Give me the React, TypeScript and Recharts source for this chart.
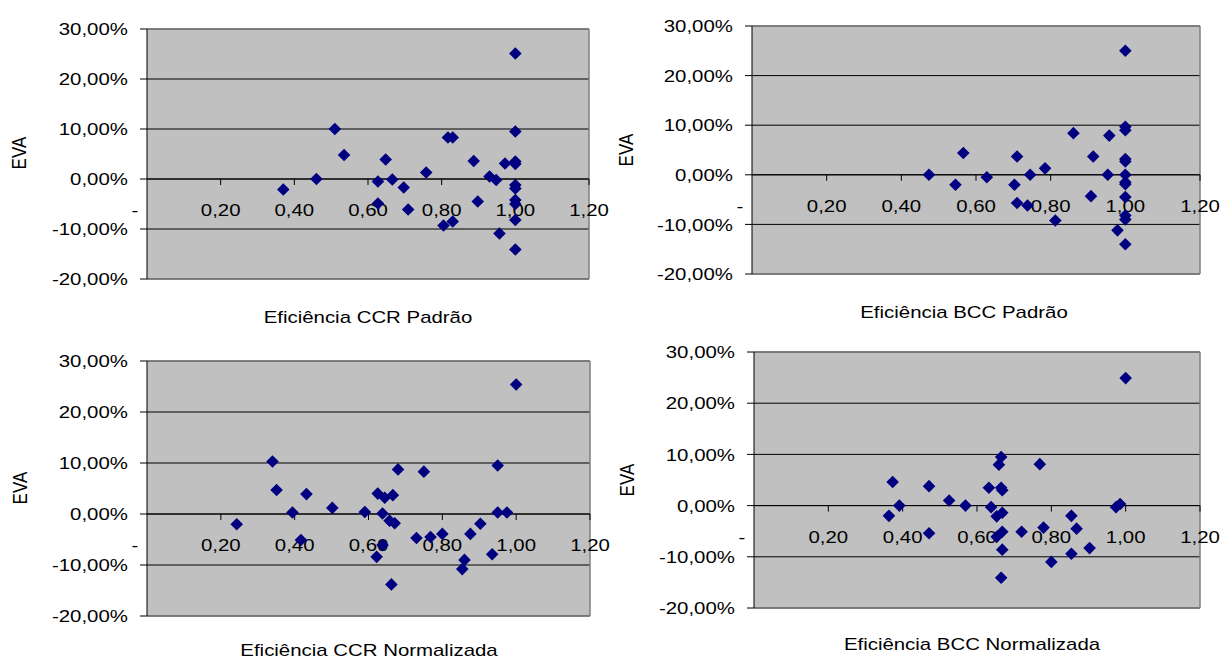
import React from 'react';
import {
  ScatterChart,
  Scatter,
  XAxis,
  YAxis,
  CartesianGrid,
  ReferenceLine,
  ReferenceDot,
} from 'recharts';

// ---------- Data (x = efficiency, y = EVA in %) ----------
const ccrPadraoX = [1.0, 0.51, 0.535, 0.46, 0.37, 0.648, 0.627, 0.666, 0.697, 0.627, 0.709, 0.758, 0.817, 0.83, 0.805, 0.83, 0.887, 0.898, 0.93, 0.948, 0.957, 0.972, 1.0, 1.0, 1.0, 1.0, 1.0, 1.0, 1.0, 1.0, 1.0];
const ccrPadraoY = [25.1, 10.0, 4.8, 0.0, -2.1, 3.9, -0.5, -0.1, -1.7, -4.9, -6.1, 1.3, 8.3, 8.3, -9.3, -8.5, 3.6, -4.5, 0.5, -0.2, -10.9, 3.1, 9.5, 3.5, 3.0, -1.2, -1.9, -4.2, -5.0, -8.2, -14.1];

const bccPadraoX = [1.0, 0.474, 0.545, 0.566, 0.629, 0.703, 0.71, 0.71, 0.738, 0.745, 0.785, 0.8125, 0.861, 0.914, 0.908, 0.953, 0.957, 0.979, 1.0, 1.0, 1.0, 1.0, 1.0, 1.0, 1.0, 1.0, 1.0, 1.0, 1.0];
const bccPadraoY = [25.0, 0.0, -2.0, 4.4, -0.5, -2.0, 3.7, -5.7, -6.2, 0.0, 1.3, -9.2, 8.4, 3.7, -4.3, 0.0, 7.9, -11.2, 9.7, 9.0, 3.2, 2.7, 0.0, -1.5, -1.9, -4.5, -8.2, -9.0, -14.0];

const ccrNormX = [1.0, 0.243, 0.34, 0.351, 0.394, 0.417, 0.432, 0.502, 0.59, 0.625, 0.644, 0.666, 0.638, 0.657, 0.671, 0.638, 0.622, 0.662, 0.68, 0.75, 0.73, 0.768, 0.8, 0.86, 0.854, 0.876, 0.903, 0.935, 0.95, 0.95, 0.975];
const ccrNormY = [25.4, -2.0, 10.3, 4.7, 0.3, -5.1, 3.9, 1.2, 0.4, 4.0, 3.2, 3.7, 0.1, -1.3, -1.8, -6.1, -8.4, -13.8, 8.75, 8.3, -4.7, -4.5, -3.9, -9.0, -10.8, -3.9, -1.9, -7.9, 9.5, 0.3, 0.3];

const bccNormX = [1.0, 0.373, 0.391, 0.363, 0.471, 0.471, 0.525, 0.569, 0.632, 0.638, 0.653, 0.668, 0.653, 0.668, 0.668, 0.665, 0.659, 0.665, 0.665, 0.668, 0.72, 0.769, 0.779, 0.8, 0.854, 0.868, 0.854, 0.903, 0.974, 0.985];
const bccNormY = [24.9, 4.6, 0.0, -2.0, 3.8, -5.4, 1.0, 0.0, 3.5, -0.3, -2.1, -1.4, -6.1, -5.1, -8.6, -14.1, 8.0, 9.5, 3.5, 3.0, -5.1, 8.1, -4.3, -11.0, -2.0, -4.5, -9.4, -8.3, -0.3, 0.3];

const yTicks = [-20, -10, 0, 10, 20, 30];
const xTicks = [0, 0.2, 0.4, 0.6, 0.8, 1.0, 1.2];
const xTickLabels = ['-', '0,20', '0,40', '0,60', '0,80', '1,00', '1,20'];

const titles = [
  'Eficiência CCR Padrão',
  'Eficiência BCC Padrão',
  'Eficiência CCR Normalizada',
  'Eficiência BCC Normalizada',
];
const yLabel = 'EVA';

// ---------- Styling ----------
const FONT = "'Liberation Sans', Arial, Helvetica, sans-serif";
const FS = 17;
const STRETCH = 1.2;
const MARKER = '#000080';
const PLOT_BG = '#c0c0c0';
const BORDER = '#808080';

const fmtPct = (v: number) => `${v.toFixed(2).replace('.', ',')}%`;

const zip = (xs: number[], ys: number[]) => xs.map((x, i) => ({ x, y: ys[i] }));

const Diamond = (props: any) => {
  const { cx, cy } = props;
  if (cx == null || cy == null) return null;
  const r = 6.3;
  return (
    <polygon
      points={`${cx},${cy - r} ${cx + r},${cy} ${cx},${cy + r} ${cx - r},${cy}`}
      fill={MARKER}
      stroke="none"
    />
  );
};

const YTick = (props: any) => {
  const { x, y, payload } = props;
  return (
    <text
      x={x}
      y={y}
      dy="0.36em"
      textAnchor="end"
      fontSize={FS}
      fontFamily={FONT}
      fill="#000"
      style={{ transformBox: 'fill-box', transformOrigin: '100% 50%', transform: `scaleX(${STRETCH})` } as any}
    >
      {fmtPct(payload.value)}
    </text>
  );
};

const makeXTick = (label: string) => (props: any) => {
  const { cx, cy } = props;
  if (cx == null || cy == null) return <g />;
  const isDash = label === '-';
  return (
    <g>
      {!isDash && <line x1={cx} x2={cx} y1={cy} y2={cy + 6} stroke="#000" strokeWidth={1} />}
      <text
        x={isDash ? cx - 12 : cx}
        y={cy + 37}
        textAnchor="middle"
        fontSize={FS}
        fontFamily={FONT}
        fill="#000"
        style={{ transformBox: 'fill-box', transformOrigin: '50% 50%', transform: `scaleX(${STRETCH})` } as any}
      >
        {label}
      </text>
    </g>
  );
};

type PanelCfg = {
  left: number;
  top: number;
  width: number;
  height: number;
  margin: { top: number; right: number; bottom: number; left: number };
  yAxisWidth: number;
  data: { x: number; y: number }[];
  title: string;
  titleX: number;
  titleY: number;
  evaX: number;
  evaY: number;
};

const panels: PanelCfg[] = [
  {
    left: 0, top: 0, width: 620, height: 300,
    margin: { top: 29, right: 31, bottom: 21, left: 0 },
    yAxisWidth: 147,
    data: zip(ccrPadraoX, ccrPadraoY),
    title: titles[0], titleX: 368, titleY: 318,
    evaX: 20, evaY: 153,
  },
  {
    left: 600, top: 0, width: 624, height: 300,
    margin: { top: 26, right: 24, bottom: 26, left: 0 },
    yAxisWidth: 152,
    data: zip(bccPadraoX, bccPadraoY),
    title: titles[1], titleX: 964, titleY: 313,
    evaX: 627, evaY: 150,
  },
  {
    left: 0, top: 330, width: 620, height: 300,
    margin: { top: 31, right: 30, bottom: 14, left: 0 },
    yAxisWidth: 147,
    data: zip(ccrNormX, ccrNormY),
    title: titles[2], titleX: 369, titleY: 651,
    evaX: 21, evaY: 488,
  },
  {
    left: 600, top: 330, width: 624, height: 300,
    margin: { top: 22, right: 24, bottom: 22, left: 0 },
    yAxisWidth: 154,
    data: zip(bccNormX, bccNormY),
    title: titles[3], titleX: 972, titleY: 645,
    evaX: 628, evaY: 480,
  },
];

const Panel = ({ cfg }: { cfg: PanelCfg }) => (
  <div style={{ position: 'absolute', left: cfg.left, top: cfg.top }}>
    <ScatterChart width={cfg.width} height={cfg.height} margin={cfg.margin}>
      <CartesianGrid
        vertical={false}
        horizontal={true}
        stroke="#000"
        strokeWidth={1}
        fill={PLOT_BG}
        fillOpacity={1}
      />
      <XAxis
        type="number"
        dataKey="x"
        domain={[0, 1.2]}
        ticks={xTicks}
        allowDataOverflow
        hide
      />
      <YAxis
        type="number"
        dataKey="y"
        domain={[-20, 30]}
        ticks={yTicks}
        interval={0}
        allowDataOverflow
        width={cfg.yAxisWidth}
        tickSize={7}
        tickMargin={12}
        axisLine={{ stroke: '#000', strokeWidth: 1 }}
        tickLine={{ stroke: '#000', strokeWidth: 1 }}
        tick={<YTick />}
      />
      <ReferenceLine y={30} stroke={BORDER} strokeWidth={1.5} />
      <ReferenceLine y={-20} stroke={BORDER} strokeWidth={1.5} />
      <ReferenceLine x={1.2} stroke={BORDER} strokeWidth={1.5} />
      <ReferenceLine y={0} stroke="#000" strokeWidth={1} />
      {xTicks.map((t, i) => (
        <ReferenceDot
          key={`xt-${i}`}
          x={t}
          y={0}
          r={0}
          ifOverflow="visible"
          shape={makeXTick(xTickLabels[i])}
        />
      ))}
      <Scatter data={cfg.data} shape={<Diamond />} isAnimationActive={false} />
    </ScatterChart>
  </div>
);

const textStyle: React.CSSProperties = {
  position: 'absolute',
  fontFamily: FONT,
  fontSize: FS,
  lineHeight: '18px',
  whiteSpace: 'nowrap',
  color: '#000',
};

export default function App() {
  return (
    <div
      style={{
        position: 'absolute',
        left: 0,
        top: 0,
        width: 1224,
        height: 661,
        background: '#fff',
        overflow: 'hidden',
      }}
    >
      {panels.map((p, i) => (
        <Panel key={i} cfg={p} />
      ))}
      {panels.map((p, i) => (
        <div
          key={`t-${i}`}
          style={{
            ...textStyle,
            left: p.titleX,
            top: p.titleY,
            transform: `translate(-50%, -50%) scaleX(${STRETCH})`,
          }}
        >
          {p.title}
        </div>
      ))}
      {panels.map((p, i) => (
        <div
          key={`e-${i}`}
          style={{
            ...textStyle,
            left: p.evaX,
            top: p.evaY,
            transform: `translate(-50%, -50%) scaleX(${STRETCH}) rotate(-90deg)`,
          }}
        >
          {yLabel}
        </div>
      ))}
    </div>
  );
}
